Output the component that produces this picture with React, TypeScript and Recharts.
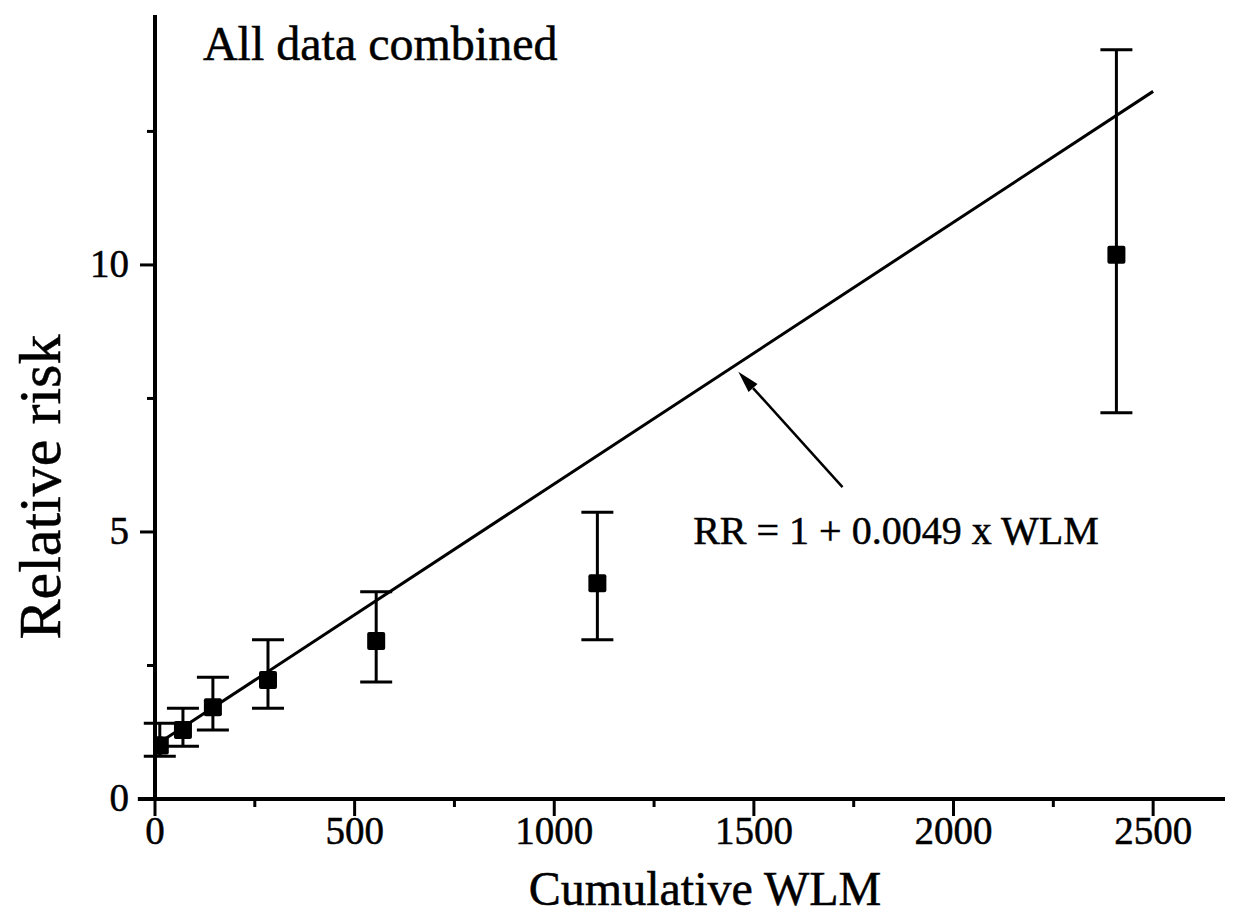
import React from 'react';
import {
  ComposedChart, Scatter, Line, XAxis, YAxis, ErrorBar, ReferenceLine, ReferenceDot,
} from 'recharts';

// grouped exposure categories (midpoints) and their relative risks
const wlm = [12, 70, 145, 283, 554, 1108, 2408];
const rr = [1.0, 1.29, 1.72, 2.23, 2.96, 4.04, 10.19];
const ciLow = [0.8, 0.99, 1.29, 1.7, 2.19, 2.98, 7.23];
const ciHigh = [1.42, 1.7, 2.28, 2.98, 3.88, 5.37, 14.03];

// reference category
const refWlm = [0];
const refRR = [1.0];

// fitted line RR = 1 + 0.0049 x WLM
const fitWlm = [0, 2500];
const fitRR = [1, 13.25];

const xTicks = [0, 250, 500, 750, 1000, 1250, 1500, 1750, 2000, 2250, 2500];
const yTicks = [0, 2.5, 5, 7.5, 10, 12.5];

const FONT = '"Liberation Serif", "Times New Roman", serif';

const points = wlm.map((x, i) => ({
  x,
  y: rr[i],
  err: [rr[i] - ciLow[i], ciHigh[i] - rr[i]],
}));
const refPoints = refWlm.map((x, i) => ({ x, y: refRR[i] }));
const fitData = fitWlm.map((x, i) => ({ x, fit: fitRR[i] }));

const Square = (props: any) => {
  const { cx, cy } = props;
  if (cx == null || cy == null) return null;
  return <rect x={cx - 9} y={cy - 9} width={18} height={18} rx={2} fill="#000" />;
};

const XTick = (props: any) => {
  const { x, y, payload } = props;
  const major = payload.value % 500 === 0;
  return (
    <g>
      <line x1={x} y1={y} x2={x} y2={y + (major ? 17 : 8)} stroke="#000" strokeWidth={3} />
      {major && (
        <text x={x} y={y + 45} textAnchor="middle" fontFamily={FONT} fontSize={39}
          fill="#000" stroke="#000" strokeWidth={0.5}>
          {payload.value}
        </text>
      )}
    </g>
  );
};

const YTick = (props: any) => {
  const { x, y, payload } = props;
  const major = payload.value % 5 === 0;
  return (
    <g>
      <line x1={x} y1={y} x2={x - (major ? 15 : 8)} y2={y} stroke="#000" strokeWidth={3} />
      {major && (
        <text x={x - 26} y={y + 12} textAnchor="end" fontFamily={FONT} fontSize={39}
          fill="#000" stroke="#000" strokeWidth={0.5}>
          {payload.value}
        </text>
      )}
    </g>
  );
};

const Arrow = (props: any) => {
  const { x1, y1, x2, y2 } = props;
  if (x1 == null) return null;
  const ang = Math.atan2(y2 - y1, x2 - x1);
  const len = 22;
  const hw = 6;
  const bx = x2 - len * Math.cos(ang);
  const by = y2 - len * Math.sin(ang);
  const px = -Math.sin(ang) * hw;
  const py = Math.cos(ang) * hw;
  return (
    <g>
      <line x1={x1} y1={y1} x2={bx} y2={by} stroke="#000" strokeWidth={2.5} />
      <polygon points={`${x2},${y2} ${bx + px},${by + py} ${bx - px},${by - py}`} fill="#000" />
    </g>
  );
};

const textLabel = (value: string, size: number) => (p: any) => {
  const vb = p.viewBox || {};
  return (
    <text x={vb.x} y={vb.y} fontFamily={FONT} fontSize={size} fill="#000"
      stroke="#000" strokeWidth={0.5}>
      {value}
    </text>
  );
};

export default function App() {
  return (
    <div style={{ position: 'absolute', left: 0, top: 0, background: '#fff' }}>
      <ComposedChart
        width={1238}
        height={917}
        margin={{ top: 15, right: 13, bottom: 0, left: 0 }}
      >
        <XAxis
          type="number"
          dataKey="x"
          domain={[0, 2680]}
          ticks={xTicks}
          allowDataOverflow
          height={118}
          axisLine={{ stroke: '#000', strokeWidth: 4 }}
          tickLine={false}
          tickSize={0}
          tickMargin={0}
          tick={<XTick />}
          interval={0}
          label={(p: any) => {
            const vb = p.viewBox;
            return (
              <text x={vb.x + vb.width / 2 + 15} y={vb.y + 106} textAnchor="middle"
                fontFamily={FONT} fontSize={48} fill="#000" stroke="#000" strokeWidth={0.5}>
                Cumulative WLM
              </text>
            );
          }}
        />
        <YAxis
          type="number"
          domain={[0, 14.68]}
          ticks={yTicks}
          allowDataOverflow
          width={155}
          axisLine={{ stroke: '#000', strokeWidth: 4 }}
          tickLine={false}
          tickSize={0}
          tickMargin={0}
          tick={<YTick />}
          interval={0}
          label={() => {
            const cx = 40;
            const cy = 487;
            return (
              <text x={cx} y={cy} textAnchor="middle" dominantBaseline="central"
                transform={`rotate(-90 ${cx} ${cy})`}
                fontFamily={FONT} fontSize={60} fill="#000" stroke="#000" strokeWidth={0.5}>
                Relative risk
              </text>
            );
          }}
        />
        <ReferenceLine
          segment={[{ x: -43, y: 0 }, { x: 0, y: 0 }]}
          ifOverflow="visible"
          stroke="#000"
          strokeWidth={4}
        />
        <Line
          data={fitData}
          dataKey="fit"
          stroke="#000"
          strokeWidth={3}
          dot={false}
          activeDot={false}
          isAnimationActive={false}
        />
        <Scatter data={refPoints} dataKey="y" shape={<Square />} isAnimationActive={false} />
        <Scatter data={points} dataKey="y" shape={<Square />} isAnimationActive={false}>
          <ErrorBar dataKey="err" direction="y" width={16} stroke="#000" strokeWidth={3} />
        </Scatter>
        <ReferenceLine
          segment={[{ x: 1722, y: 5.84 }, { x: 1461, y: 8.0 }]}
          shape={<Arrow />}
        />
        <ReferenceDot x={120} y={13.84} r={0} fill="none" stroke="none"
          label={textLabel('All data combined', 48)} />
        <ReferenceDot x={1348} y={4.78} r={0} fill="none" stroke="none"
          label={textLabel('RR = 1 + 0.0049 x WLM', 40)} />
      </ComposedChart>
    </div>
  );
}
